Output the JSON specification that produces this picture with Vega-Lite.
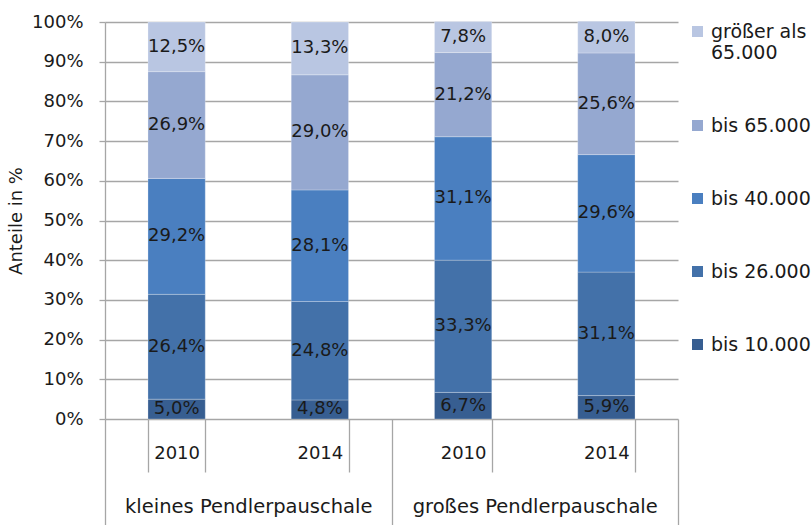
{
  "$schema": "https://vega.github.io/schema/vega-lite/v6.json",
  "width": 573,
  "height": 397,
  "autosize": {"type": "none"},
  "padding": {"left": 105, "top": 22, "right": 133, "bottom": 106},
  "background": "white",
  "config": {
    "font": "DejaVu Sans",
    "view": {"stroke": null},
    "locale": {"number": {"decimal": ",", "thousands": ".", "grouping": [3], "currency": ["", " €"]}},
    "axis": {"labelFont": "DejaVu Sans", "titleFont": "DejaVu Sans", "labelColor": "#1a1a1a", "titleColor": "#1a1a1a"},
    "axisY": {
      "title": "Anteile in %", "titleFontSize": 18, "titleFontWeight": "normal", "titlePadding": 6,
      "format": ".0%", "values": [0, 0.1, 0.2, 0.3, 0.4, 0.5, 0.6, 0.7, 0.8, 0.9, 1], "tickCount": 10,
      "labelOverlap": false,
      "labelFontSize": 18, "labelPadding": 16, "tickSize": 6,
      "tickColor": "#a6a6a6", "tickWidth": 1.3, "domainColor": "#a6a6a6", "domainWidth": 1.3,
      "grid": true, "gridColor": "#a6a6a6", "gridWidth": 1.3
    }
  },
  "data": {
    "values": [
      {"group": "kleines Pendlerpauschale", "bar": "kleines Pendlerpauschale 2010", "cat": "bis 10.000", "rank": 1, "pct": 0.050},
      {"group": "kleines Pendlerpauschale", "bar": "kleines Pendlerpauschale 2010", "cat": "bis 26.000", "rank": 2, "pct": 0.264},
      {"group": "kleines Pendlerpauschale", "bar": "kleines Pendlerpauschale 2010", "cat": "bis 40.000", "rank": 3, "pct": 0.292},
      {"group": "kleines Pendlerpauschale", "bar": "kleines Pendlerpauschale 2010", "cat": "bis 65.000", "rank": 4, "pct": 0.269},
      {"group": "kleines Pendlerpauschale", "bar": "kleines Pendlerpauschale 2010", "cat": "größer als 65.000", "rank": 5, "pct": 0.125},
      {"group": "kleines Pendlerpauschale", "bar": "kleines Pendlerpauschale 2014", "cat": "bis 10.000", "rank": 1, "pct": 0.048},
      {"group": "kleines Pendlerpauschale", "bar": "kleines Pendlerpauschale 2014", "cat": "bis 26.000", "rank": 2, "pct": 0.248},
      {"group": "kleines Pendlerpauschale", "bar": "kleines Pendlerpauschale 2014", "cat": "bis 40.000", "rank": 3, "pct": 0.281},
      {"group": "kleines Pendlerpauschale", "bar": "kleines Pendlerpauschale 2014", "cat": "bis 65.000", "rank": 4, "pct": 0.290},
      {"group": "kleines Pendlerpauschale", "bar": "kleines Pendlerpauschale 2014", "cat": "größer als 65.000", "rank": 5, "pct": 0.133},
      {"group": "großes Pendlerpauschale", "bar": "großes Pendlerpauschale 2010", "cat": "bis 10.000", "rank": 1, "pct": 0.067},
      {"group": "großes Pendlerpauschale", "bar": "großes Pendlerpauschale 2010", "cat": "bis 26.000", "rank": 2, "pct": 0.333},
      {"group": "großes Pendlerpauschale", "bar": "großes Pendlerpauschale 2010", "cat": "bis 40.000", "rank": 3, "pct": 0.311},
      {"group": "großes Pendlerpauschale", "bar": "großes Pendlerpauschale 2010", "cat": "bis 65.000", "rank": 4, "pct": 0.212},
      {"group": "großes Pendlerpauschale", "bar": "großes Pendlerpauschale 2010", "cat": "größer als 65.000", "rank": 5, "pct": 0.078},
      {"group": "großes Pendlerpauschale", "bar": "großes Pendlerpauschale 2014", "cat": "bis 10.000", "rank": 1, "pct": 0.059},
      {"group": "großes Pendlerpauschale", "bar": "großes Pendlerpauschale 2014", "cat": "bis 26.000", "rank": 2, "pct": 0.311},
      {"group": "großes Pendlerpauschale", "bar": "großes Pendlerpauschale 2014", "cat": "bis 40.000", "rank": 3, "pct": 0.296},
      {"group": "großes Pendlerpauschale", "bar": "großes Pendlerpauschale 2014", "cat": "bis 65.000", "rank": 4, "pct": 0.256},
      {"group": "großes Pendlerpauschale", "bar": "großes Pendlerpauschale 2014", "cat": "größer als 65.000", "rank": 5, "pct": 0.080}
    ]
  },
  "transform": [
    {"stack": "pct", "groupby": ["bar"], "sort": [{"field": "rank", "order": "ascending"}], "as": ["y0", "y1"]},
    {"calculate": "(datum.y0 + datum.y1) / 2", "as": "ymid"}
  ],
  "layer": [
    {
      "mark": {"type": "bar", "stroke": "#ffffff", "strokeOpacity": 0.25, "strokeWidth": 1},
      "encoding": {
        "x": {
          "field": "bar", "type": "nominal", "sort": null,
          "scale": {"paddingInner": 0.6, "paddingOuter": 0.3},
          "axis": {
            "orient": "bottom", "title": null, "domain": false, "grid": false,
            "tickBand": "extent", "tickSize": 53, "tickColor": "#a6a6a6", "tickWidth": 1.3,
            "labelAngle": 0, "labelFontSize": 18, "labelPadding": -28,
            "labelExpr": "slice(datum.label, -4)"
          }
        },
        "y": {
          "field": "y0", "type": "quantitative", "title": "Anteile in %",
          "scale": {"domain": [0, 1], "nice": false}
        },
        "y2": {"field": "y1"},
        "color": {
          "field": "cat", "type": "nominal",
          "scale": {
            "domain": ["größer als 65.000", "bis 65.000", "bis 40.000", "bis 26.000", "bis 10.000"],
            "range": ["#B9C6E2", "#95A8D0", "#4A7FC0", "#4371A9", "#375E91"]
          },
          "legend": {
            "title": null, "orient": "right", "offset": 10, "padding": 0,
            "symbolType": "square", "symbolSize": 121, "symbolStrokeWidth": 0,
            "labelFontSize": 19, "labelFont": "DejaVu Sans", "labelColor": "#1a1a1a", "labelOffset": 4,
            "labelLimit": 200, "rowPadding": 53,
            "labelExpr": "datum.label == 'größer als 65.000' ? ['größer als', '65.000'] : datum.label"
          }
        }
      }
    },
    {
      "mark": {"type": "text", "fontSize": 18, "color": "#1a1a1a", "baseline": "middle"},
      "encoding": {
        "x": {"field": "bar", "type": "nominal", "sort": null, "scale": {"paddingInner": 0.6, "paddingOuter": 0.3}, "axis": null},
        "y": {"field": "ymid", "type": "quantitative", "title": "Anteile in %", "scale": {"domain": [0, 1], "nice": false}},
        "text": {"field": "pct", "type": "quantitative", "format": ".1%"}
      }
    },
    {
      "mark": {"type": "bar", "opacity": 0},
      "encoding": {
        "x": {
          "field": "group", "type": "nominal", "sort": null,
          "scale": {"paddingInner": 0, "paddingOuter": 0},
          "axis": {
            "orient": "bottom", "title": null, "domain": false, "grid": false,
            "tickBand": "extent", "tickSize": 106, "tickColor": "#a6a6a6", "tickWidth": 1.3,
            "labelAngle": 0, "labelFontSize": 19.5, "labelPadding": -28, "labelLimit": 400
          }
        },
        "y": {"field": "y0", "type": "quantitative", "title": "Anteile in %", "scale": {"domain": [0, 1], "nice": false}},
        "y2": {"field": "y1"}
      }
    }
  ],
  "resolve": {"scale": {"x": "independent"}}
}
